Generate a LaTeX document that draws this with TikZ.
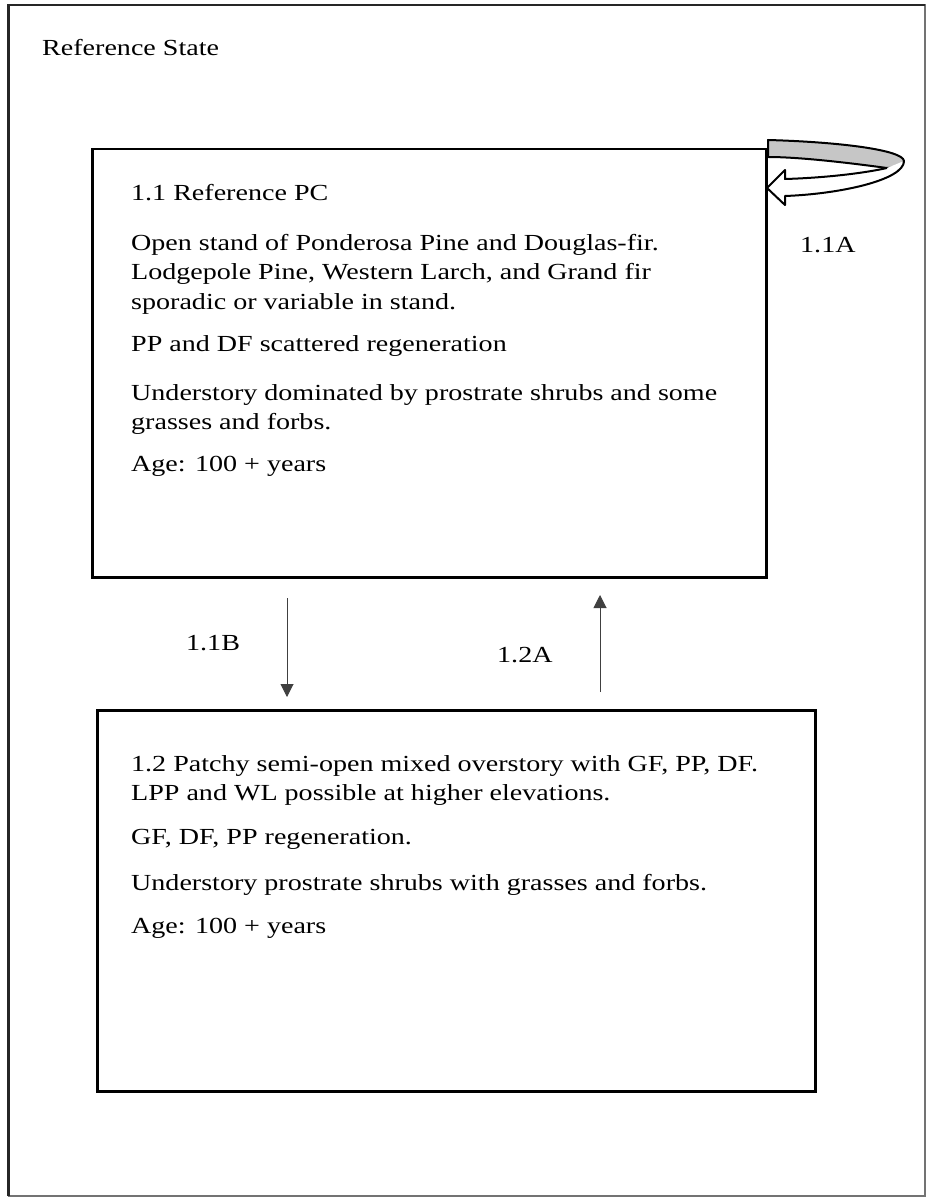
\documentclass[tikz,border=0pt]{standalone}
\usepackage{fontspec}
\setmainfont[FakeStretch=1.22]{Liberation Serif}
\usetikzlibrary{arrows.meta}
\begin{document}
\begin{tikzpicture}[x=1pt,y=-1pt,
  box/.style={draw, line width=2.5pt},
  txt/.style={anchor=north west, inner sep=0pt, font=\fontsize{23}{29.5}\selectfont, align=left},
  lbl/.style={inner sep=0pt, font=\fontsize{23}{29.5}\selectfont},
  conn/.style={draw=black!75, line width=1pt, -{Triangle[length=13pt,width=13pt]}},
  loopline/.style={draw=black, line width=2pt, line join=round}]
\useasboundingbox (0,0) rectangle (927,1198);
\draw[line width=1.2pt, draw=black!55] (9,5) rectangle (925,1196);
\draw[line width=2.5pt, draw=black!85] (8.5,1196) -- (8.5,5) -- (925,5);
\node[lbl, anchor=west] (title) at (42,48) {Reference State};
% boxes
\node[box, minimum width=674pt, minimum height=428pt, anchor=north west, inner sep=0pt] (b1) at (91,148) {};
\node[box, minimum width=718pt, minimum height=381pt, anchor=north west, inner sep=0pt] (b2) at (96,709) {};
% box 1 text
\node[txt] (t11) at (131,184) {1.1 Reference PC};
\node[txt] (t12) at (131,234) {Open stand of Ponderosa Pine and Douglas-fir.\\Lodgepole Pine, Western Larch, and Grand fir\\sporadic or variable in stand.};
\node[txt] (t13) at (131,335) {PP and DF scattered regeneration};
\node[txt] (t14) at (131,384) {Understory dominated by prostrate shrubs and some\\grasses and forbs.};
\node[txt] (t15) at (131,456) {Age: 100 + years};
% box 2 text
\node[txt] (t21) at (131,755) {1.2 Patchy semi-open mixed overstory with GF, PP, DF.\\LPP and WL possible at higher elevations.};
\node[txt] (t22) at (131,829) {GF, DF, PP regeneration.};
\node[txt] (t23) at (131,874) {Understory prostrate shrubs with grasses and forbs.};
\node[txt] (t24) at (131,918) {Age: 100 + years};
% transitions
\coordinate (s1) at (287,598);
\coordinate (e1) at (287,697);
\coordinate (s2) at (600,692);
\coordinate (e2) at (600,595);
\draw[conn] (s1) -- (e1);
\draw[conn] (s2) -- (e2);
\node[lbl, anchor=west] (l11b) at (186,643) {1.1B};
\node[lbl, anchor=west] (l12a) at (497,655) {1.2A};
\node[lbl, anchor=west] (l11a) at (800,245) {1.1A};
% self loop arrow
\fill[gray!45] (768,140) .. controls (840,142) and (903,150) .. (904,161)
  .. controls (904,165) and (896,168) .. (887,168)
  .. controls (850,163) and (800,157) .. (768,157) -- cycle;
\draw[loopline] (768,140) .. controls (840,142) and (903,150) .. (904,161)
  .. controls (904,165) and (896,168) .. (887,168)
  .. controls (850,163) and (800,157) .. (768,157) -- cycle;
\draw[loopline, fill=white] (887,168) .. controls (860,174) and (820,178) .. (785,179)
  -- (785,170) -- (767,188) -- (785,205) -- (785,196)
  .. controls (840,194) and (904,180) .. (904,161);
\end{tikzpicture}
\end{document}
